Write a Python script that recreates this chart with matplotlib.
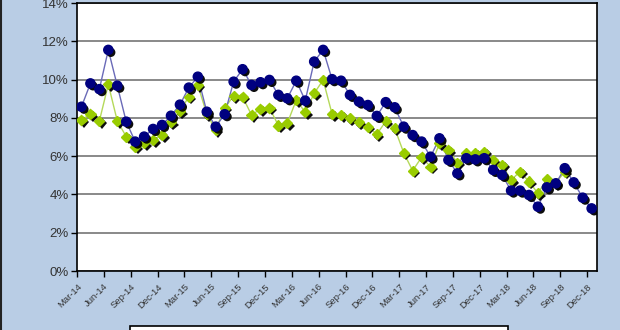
import matplotlib
matplotlib.use("Agg")
import matplotlib.pyplot as plt
import matplotlib.patheffects as pe
from matplotlib.patches import Rectangle
from matplotlib.lines import Line2D

tick_labels = ["Mar-14", "Jun-14", "Sep-14", "Dec-14", "Mar-15", "Jun-15", "Sep-15", "Dec-15",
               "Mar-16", "Jun-16", "Sep-16", "Dec-16", "Mar-17", "Jun-17", "Sep-17", "Dec-17",
               "Mar-18", "Jun-18", "Sep-18", "Dec-18"]

# monthly values, Mar-14 .. Dec-18 (percent)
navy = [8.58, 9.8, 9.5, 11.55, 9.68, 7.8, 6.76, 7.02, 7.42, 7.63, 8.11, 8.69,
        9.58, 10.15, 8.32, 7.54, 8.19, 9.89, 10.54, 9.72, 9.86, 9.98, 9.2, 9.02,
        9.94, 8.9, 10.94, 11.55, 10.02, 9.94, 9.2, 8.85, 8.67, 8.1, 8.82, 8.55,
        7.54, 7.1, 6.76, 5.97, 6.93, 5.8, 5.1, 5.89, 5.83, 5.89, 5.28, 5.02,
        4.2, 4.2, 3.97, 3.36, 4.37, 4.58, 5.37, 4.63, 3.83, 3.27]
green = [7.89, 8.2, 7.84, 9.75, 7.84, 7.02, 6.5, 6.67, 6.84, 7.1, 7.77, 8.34,
         9.11, 9.72, 8.2, 7.37, 8.53, 9.14, 9.1, 8.15, 8.46, 8.53, 7.6, 7.72,
         8.93, 8.29, 9.28, 9.98, 8.2, 8.15, 7.98, 7.77, 7.54, 7.14, 7.82, 7.45,
         6.18, 5.24, 5.94, 5.45, 6.67, 6.32, 5.66, 6.15, 6.18, 6.23, 5.78, 5.54,
         4.75, 5.19, 4.67, 4.06, 4.79, 4.6, 5.19]

bg = "#B9CDE5"
fig = plt.figure(figsize=(6.2, 3.3), dpi=100)
fig.patch.set_facecolor(bg)
ax = fig.add_axes([77/620, 59/330, 520/620, 268/330])
ax.set_facecolor("white")

xn = [i + 0.5 for i in range(len(navy))]
xg = [i + 0.5 for i in range(len(green))]

ax.plot(xg, green, color="#B5D95A", lw=1.0, zorder=3)
ax.plot(xn, navy, color="#6A6AB8", lw=1.0, zorder=4)
shadow = [pe.SimplePatchShadow(offset=(1.8, -1.8), shadow_rgbFace="black", alpha=0.95), pe.Normal()]
ax.plot(xg, green, ls="none", marker="D", ms=5.2, color="#99CC00", mec="#99CC00",
        path_effects=shadow, zorder=5)
ax.plot(xn, navy, ls="none", marker="o", ms=6.6, color="#000080", mec="#000080",
        path_effects=shadow, zorder=6)

ax.set_xlim(0, 58.1)
ax.set_ylim(0, 14)
ax.set_yticks(range(0, 15, 2))
ax.set_yticklabels([f"{v}%" for v in range(0, 15, 2)], fontsize=9.5, color="#333333",
                   family=["Liberation Sans", "DejaVu Sans"])
ax.set_xticks([3 * i for i in range(len(tick_labels))])
ax.set_xticklabels(tick_labels, rotation=45, ha="right", rotation_mode="anchor",
                   fontsize=6.8, color="#333333", family=["Liberation Sans", "DejaVu Sans"])
ax.grid(axis="y", color="#808080", lw=1.3, zorder=1)
ax.set_axisbelow(True)
ax.tick_params(axis="both", direction="out", length=4, width=1, color="black", pad=2)
ax.tick_params(axis="x", pad=4)
for s in ax.spines.values():
    s.set_color("black")
    s.set_linewidth(1.2)

# legend box (cut off at bottom)
fig.patches.append(Rectangle((130/620, -0.05), 378/620, 0.05 + 4/330, transform=fig.transFigure,
                             facecolor="white", edgecolor="black", lw=1.2))
# left frame edge
fig.lines.append(Line2D([0.002, 0.002], [0, 1], transform=fig.transFigure, color="#222222", lw=1.5))

fig.savefig("out.png", dpi=100, facecolor=bg)
